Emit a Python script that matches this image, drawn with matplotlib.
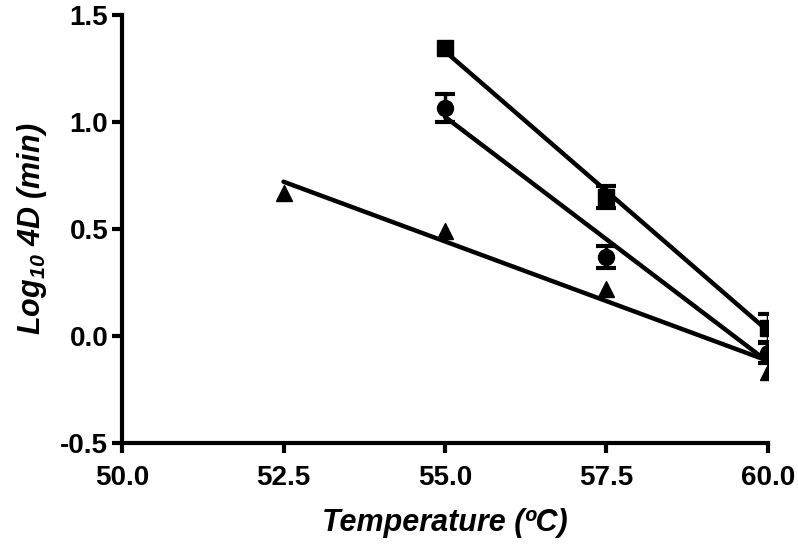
import numpy as np
import matplotlib
matplotlib.use("Agg")
import matplotlib.pyplot as plt

plt.rcParams['font.family'] = ['Liberation Sans', 'DejaVu Sans']
plt.rcParams['mathtext.fontset'] = 'custom'
plt.rcParams['mathtext.rm'] = 'Liberation Sans:bold:italic'
plt.rcParams['mathtext.it'] = 'Liberation Sans:bold:italic'

# data
temp_sq = [55.0, 57.5, 60.0]
log_sq = [1.344, 0.65, 0.037]
err_sq = [0.0, 0.05, 0.065]

temp_ci = [55.0, 57.5, 60.0]
log_ci = [1.065, 0.37, -0.08]
err_ci = [0.065, 0.05, 0.047]

temp_tr = [52.5, 55.0, 57.5, 60.0]
log_tr = [0.67, 0.49, 0.22, -0.17]
err_tr = [0.0, 0.0, 0.0, 0.0]

x_ticks = [50.0, 52.5, 55.0, 57.5, 60.0]
y_ticks = [-0.5, 0.0, 0.5, 1.0, 1.5]

fig = plt.figure(figsize=(7.98, 5.46), dpi=100, facecolor='white')
ax = fig.add_axes([0.1529, 0.1886, 0.8095, 0.7839])

series = [
    (temp_sq, log_sq, err_sq, 's', 11),
    (temp_ci, log_ci, err_ci, 'o', 11.5),
    (temp_tr, log_tr, err_tr, '^', 12),
]
for xs, ys, es, mk, ms in series:
    ax.plot(xs, ys, mk, color='black', ms=ms, zorder=3)
    # only draw bars where there is an error to show
    xe = [x for x, e in zip(xs, es) if e > 0]
    ye = [y for y, e in zip(ys, es) if e > 0]
    ee = [e for e in es if e > 0]
    if ee:
        ax.errorbar(xe, ye, yerr=ee, fmt='none', ecolor='black',
                    elinewidth=2.5, capsize=7.5, capthick=3, zorder=3)
    # linear regression line over the range of the series
    slope, icpt = np.polyfit(xs, ys, 1)
    xl = np.array([min(xs), max(xs)])
    ax.plot(xl, slope * xl + icpt, color='black', lw=3.2,
            solid_capstyle='round', zorder=2)

ax.set_xlim(50, 60)
ax.set_ylim(-0.5, 1.5)
ax.set_xticks(x_ticks)
ax.set_yticks(y_ticks)
ax.set_xticklabels([f"{v:.1f}" for v in x_ticks], fontsize=20, fontweight='bold')
ax.set_yticklabels([f"{v:.1f}" for v in y_ticks], fontsize=20, fontweight='bold')

for side in ['top', 'right']:
    ax.spines[side].set_visible(False)
for side in ['left', 'bottom']:
    ax.spines[side].set_linewidth(3)
    ax.spines[side].set_capstyle('projecting')
ax.tick_params(axis='both', length=7, width=3, direction='out')
ax.tick_params(axis='x', pad=9)
ax.tick_params(axis='y', pad=3)

ax.set_xlabel('Temperature (\u00baC)', fontsize=22, fontweight='bold',
              fontstyle='italic', labelpad=12)
ax.set_ylabel('Log$_{10}$ 4D (min)', fontsize=22, fontweight='bold',
              fontstyle='italic', labelpad=8)
ax.patch.set_visible(False)

plt.savefig('out.png', dpi=100, facecolor='white')
plt.close(fig)
